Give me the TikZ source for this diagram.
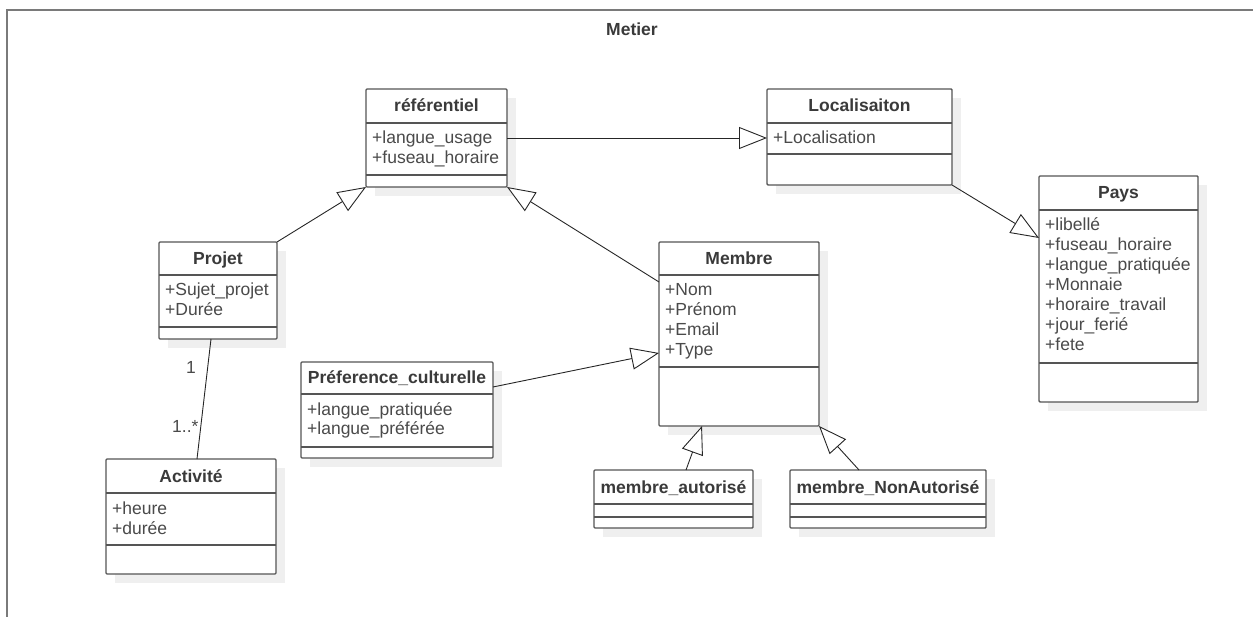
\documentclass[tikz,border=0pt]{standalone}
\usepackage{fontspec}
\setmainfont{Liberation Sans}
\usetikzlibrary{arrows.meta}
\definecolor{boxc}{HTML}{555555}
\definecolor{txtc}{HTML}{3A3A3A}
\definecolor{attc}{HTML}{4A4A4A}
\definecolor{shadc}{HTML}{EFEFEF}
\definecolor{framec}{HTML}{7A7A7A}
\tikzset{
 classbox/.style={draw=boxc, line width=1.4pt, fill=white, rounded corners=1pt, inner sep=0pt, outer sep=0pt},
 sepline/.style={draw=boxc, line width=1.4pt},
 titletext/.style={font=\fontsize{17.5}{20}\selectfont\bfseries, text=txtc, inner sep=0pt, anchor=base},
 attrtext/.style={font=\fontsize{17.5}{20}\selectfont, text=attc, inner sep=0pt, anchor=base west},
 gen/.style={draw=black!85, line width=0.9pt, -{Triangle[open, length=28pt, width=22pt, fill=white]}},
 assoc/.style={draw=black!85, line width=0.9pt},
 mult/.style={font=\fontsize{17.5}{20}\selectfont, text=attc, inner sep=0pt, anchor=base west},
}
\newcommand{\umlclass}[9]{%
  \fill[shadc] (#2+9,#3+9) rectangle (#4+9,#5+9);
  \node[classbox, anchor=north west, minimum width={(#4-#2)*1pt}, minimum height={(#5-#3)*1pt}] (#1) at (#2,#3) {};
  \draw[sepline] (#2,#6) -- (#4,#6);
  \draw[sepline] (#2,#7) -- (#4,#7);
  \node[titletext] (#1-t) at ({(#2+#4)/2},{(#3+#6)/2+6}) {#8};
  \foreach \a [count=\i] in {#9} { \node[attrtext] (#1-a\i) at (#2+6,{#6+21+20*(\i-1)}) {\a}; }
}
\begin{document}
\begin{tikzpicture}[x=1pt, y=-1pt]
\useasboundingbox (0,0) rectangle (1253,617);
\draw[framec, line width=1.6pt] (7,617) -- (7,10) -- (1253,10);
\node[titletext] (metier) at (632,36) {Metier};

\umlclass{ref}{366}{89}{507}{187}{123}{175}{référentiel}{+langue\_usage,+fuseau\_horaire}
\umlclass{loc}{767}{89}{952}{185}{123}{154}{Localisaiton}{+Localisation}
\umlclass{pays}{1039}{176}{1198}{402}{210}{363}{Pays}{+libellé,+fuseau\_horaire,+langue\_pratiquée,+Monnaie,+horaire\_travail,+jour\_ferié,+fete}
\umlclass{projet}{159}{242}{277}{339}{275}{327}{Projet}{+Sujet\_projet,+Durée}
\umlclass{act}{106}{459}{276}{574}{493}{545}{Activité}{+heure,+durée}
\umlclass{pref}{301}{362}{493}{458}{394}{447}{Préference\_culturelle}{+langue\_pratiquée,+langue\_préférée}
\umlclass{membre}{659}{242}{819}{426}{275}{367}{Membre}{+Nom,+Prénom,+Email,+Type}
\umlclass{ma}{594}{470}{753}{528}{504}{517}{membre\_autorisé}{}
\umlclass{mna}{790}{470}{986}{528}{504}{517}{membre\_NonAutorisé}{}

\draw[gen] (ref.east) -- (ref.east -| loc.west);
\draw[gen] (projet.north east) -- (ref.south west);
\draw[gen] ([yshift=-40pt]membre.north west) -- (ref.south east);
\draw[gen] (loc.south east) -- ([yshift=-62pt]pays.north west);
\draw[gen] ([yshift=-25pt]pref.north east) -- ([yshift=-111pt]membre.north west);
\draw[gen] ([xshift=12.5pt]ma.north) -- ([xshift=-37pt]membre.south);
\draw[gen] ([xshift=-29pt]mna.north) -- (membre.south east);
\draw[assoc] ([xshift=-7pt]projet.south) -- ([xshift=6pt]act.north);
\node[mult] (m1) at (186,374) {1};
\node[mult] (m2) at (172,432) {1..*};
\end{tikzpicture}
\end{document}
